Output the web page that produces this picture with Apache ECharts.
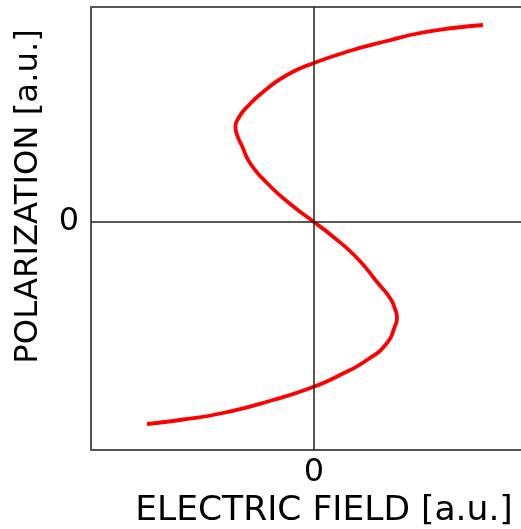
<!DOCTYPE html>
<html>
<head>
<meta charset="utf-8">
<script src="https://cdn.jsdelivr.net/npm/echarts@6/dist/echarts.min.js"></script>
<style>
  html, body { margin: 0; padding: 0; background: #fff; }
  #chart { width: 521px; height: 529px; }
</style>
</head>
<body>
<div id="chart"></div>
<script>
// Polarization vs. electric field (S-shaped Landau curve), arbitrary units.
const fieldE = [
  1.69, 1.39, 1.06, 0.73, 0.39, 0.00, -0.27, -0.51, -0.67, -0.755,
  -0.785, -0.765, -0.72, -0.64, -0.47, -0.25, 0.00, 0.17, 0.43, 0.63,
  0.76, 0.81, 0.83, 0.81, 0.73, 0.53, 0.26, -0.01, -0.41, -0.91,
  -1.34, -1.67
];
const polarizationP = [
  1.97, 1.94, 1.89, 1.81, 1.72, 1.59, 1.47, 1.30, 1.15, 1.04,
  0.95, 0.86, 0.76, 0.59, 0.39, 0.19, 0.00, -0.13, -0.36, -0.60,
  -0.76, -0.87, -0.96, -1.04, -1.21, -1.38, -1.53, -1.65, -1.78, -1.91,
  -1.98, -2.02
];
const xTickValues = [0];
const yTickValues = [0];

const curve = fieldE.map((e, i) => [e, polarizationP[i]]);
const FONT = 'DejaVu Sans';

const chart = echarts.init(document.getElementById('chart'), null, { renderer: 'canvas' });
chart.setOption({
  animation: false,
  backgroundColor: '#ffffff',
  grid: {
    left: 91, top: 7, right: -36, bottom: 79,
    outerBoundsMode: 'none', containLabel: false,
    show: true, borderColor: '#555555', borderWidth: 2, backgroundColor: 'transparent'
  },
  xAxis: {
    type: 'value', min: -2.23, max: 2.43,
    axisLine: { show: false }, axisTick: { show: false }, splitLine: { show: false },
    axisLabel: {
      customValues: xTickValues, color: '#000', fontFamily: FONT, fontSize: 32, margin: 7
    },
    name: 'ELECTRIC FIELD [a.u.]', nameLocation: 'middle', nameGap: 40,
    nameTextStyle: { color: '#000', fontFamily: FONT, fontSize: 34.5 }
  },
  yAxis: {
    type: 'value', min: -2.28, max: 2.15,
    axisLine: { show: false }, axisTick: { show: false }, splitLine: { show: false },
    axisLabel: {
      customValues: yTickValues, color: '#000', fontFamily: FONT, fontSize: 32, margin: 12
    },
    name: 'POLARIZATION [a.u.]', nameLocation: 'middle', nameGap: 46,
    nameTextStyle: { color: '#000', fontFamily: FONT, fontSize: 32.3, padding: [0, 0, 0, 64] }
  },
  series: [
    {
      // zero reference lines, drawn beneath the curve
      type: 'line', data: [], z: 1, silent: true,
      markLine: {
        silent: true, symbol: 'none', animation: false,
        label: { show: false },
        lineStyle: { color: '#222', width: 1.5, type: 'solid' },
        data: [{ xAxis: 0 }, { yAxis: 0 }]
      }
    },
    {
      type: 'line', data: curve, z: 3,
      smooth: 0.55, showSymbol: false, symbol: 'none',
      lineStyle: { color: '#ff0000', width: 3.8 }
    }
  ]
});
</script>
</body>
</html>
